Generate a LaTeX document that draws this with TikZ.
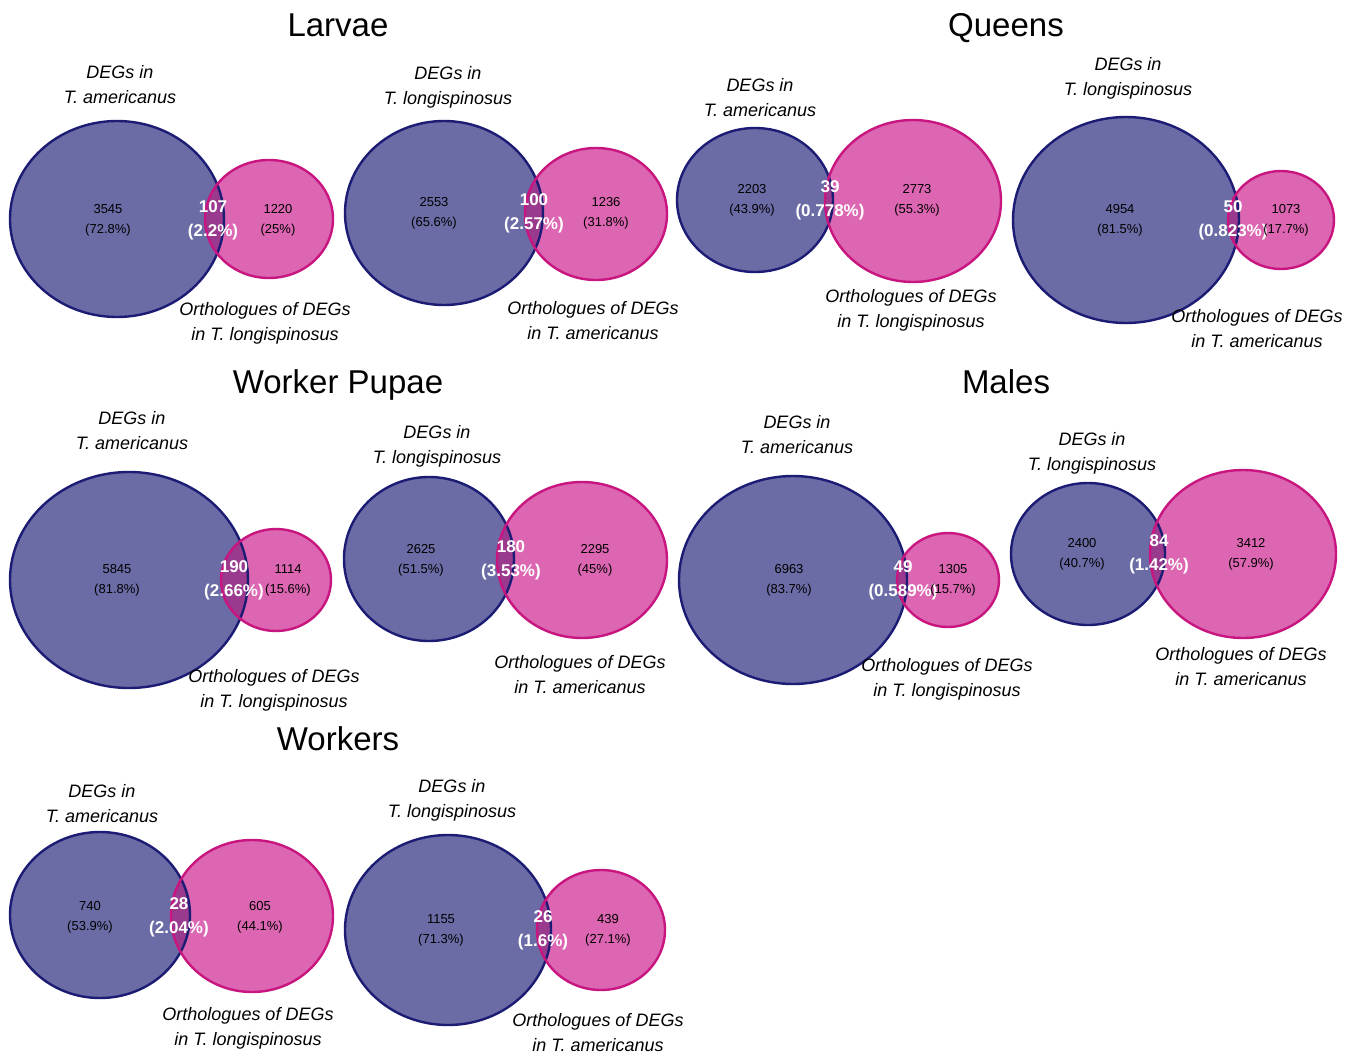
\documentclass[tikz,border=0pt]{standalone}
\usepackage{fontspec}
\setmainfont{Liberation Sans}
\definecolor{bfill}{HTML}{6B6BA6}
\definecolor{bline}{HTML}{1C1C74}
\definecolor{pfill}{HTML}{DC66B2}
\definecolor{pline}{HTML}{C8157F}
\definecolor{ofill}{HTML}{9A3A8E}
\newcommand{\myvenn}[8]{%
  \fill[bfill] (#1,#2) ellipse [x radius=#3, y radius=#4];
  \fill[pfill] (#5,#6) ellipse [x radius=#7, y radius=#8];
  \begin{scope}
    \clip (#1,#2) ellipse [x radius=#3, y radius=#4];
    \fill[ofill] (#5,#6) ellipse [x radius=#7, y radius=#8];
  \end{scope}
  \draw[bline,line width=2.4pt] (#1,#2) ellipse [x radius=#3, y radius=#4];
  \draw[pline,line width=2.4pt] (#5,#6) ellipse [x radius=#7, y radius=#8];
}
\begin{document}
\begin{tikzpicture}[x=1pt,y=-1pt,
  ttl/.style={font=\fontsize{33}{38}\selectfont,anchor=base,inner sep=0pt},
  lbl/.style={font=\fontsize{18}{25}\selectfont\itshape,align=center,inner sep=0pt},
  num/.style={font=\fontsize{13}{20}\selectfont,align=center,inner sep=0pt},
  ovn/.style={font=\fontsize{17}{24}\selectfont\bfseries,text=white,align=center,inner sep=0pt}]
\useasboundingbox[fill=white] (0,0) rectangle (1354,1054);

% titles
\node[ttl] (tl) at (338,37) {Larvae};
\node[ttl] (tq) at (1006,37) {Queens};
\node[ttl] (tw) at (338,393) {Worker Pupae};
\node[ttl] (tm) at (1006,393) {Males};
\node[ttl] (tk) at (338,750) {Workers};

% Larvae 1
\myvenn{117}{219}{107}{98}{269}{219}{64}{59}
\node[num] (l1a) at (108,220) {3545\\(72.8\%)};
\node[ovn] (l1o) at (213,220) {107\\(2.2\%)};
\node[num] (l1b) at (278,220) {1220\\(25\%)};
\node[lbl] (l1t) at (120,85) {DEGs in\\T. americanus};
\node[lbl] (l1u) at (265,323) {Orthologues of DEGs\\in T. longispinosus};

% Larvae 2
\myvenn{444}{213}{99}{92}{596}{214}{71}{66}
\node[num] (l2a) at (434,213) {2553\\(65.6\%)};
\node[ovn] (l2o) at (534,213) {100\\(2.57\%)};
\node[num] (l2b) at (606,213) {1236\\(31.8\%)};
\node[lbl] (l2t) at (448,87) {DEGs in\\T. longispinosus};
\node[lbl] (l2u) at (593,321) {Orthologues of DEGs\\in T. americanus};

% Queens 1
\myvenn{755}{200}{78}{72}{913}{201}{88}{81}
\node[num] (q1a) at (752,200) {2203\\(43.9\%)};
\node[ovn] (q1o) at (830,200) {39\\(0.778\%)};
\node[num] (q1b) at (917,200) {2773\\(55.3\%)};
\node[lbl] (q1t) at (760,98) {DEGs in\\T. americanus};
\node[lbl] (q1u) at (911,310) {Orthologues of DEGs\\in T. longispinosus};

% Queens 2
\myvenn{1126}{220}{113}{103}{1281}{220}{53}{49}
\node[num] (q2a) at (1120,220) {4954\\(81.5\%)};
\node[ovn] (q2o) at (1233,220) {50\\(0.823\%)};
\node[num] (q2b) at (1286,220) {1073\\(17.7\%)};
\node[lbl] (q2t) at (1128,78) {DEGs in\\T. longispinosus};
\node[lbl] (q2u) at (1257,329) {Orthologues of DEGs\\in T. americanus};

% Worker Pupae 1
\myvenn{129}{580}{119}{108}{276}{580}{55}{51}
\node[num] (w1a) at (117,580) {5845\\(81.8\%)};
\node[ovn] (w1o) at (234,580) {190\\(2.66\%)};
\node[num] (w1b) at (288,580) {1114\\(15.6\%)};
\node[lbl] (w1t) at (132,431) {DEGs in\\T. americanus};
\node[lbl] (w1u) at (274,690) {Orthologues of DEGs\\in T. longispinosus};

% Worker Pupae 2
\myvenn{429}{559}{85}{82}{582}{560}{85}{78}
\node[num] (w2a) at (421,560) {2625\\(51.5\%)};
\node[ovn] (w2o) at (511,560) {180\\(3.53\%)};
\node[num] (w2b) at (595,560) {2295\\(45\%)};
\node[lbl] (w2t) at (437,446) {DEGs in\\T. longispinosus};
\node[lbl] (w2u) at (580,675) {Orthologues of DEGs\\in T. americanus};

% Males 1
\myvenn{793}{580}{114}{104}{948}{580}{51}{47}
\node[num] (m1a) at (789,580) {6963\\(83.7\%)};
\node[ovn] (m1o) at (903,580) {49\\(0.589\%)};
\node[num] (m1b) at (953,580) {1305\\(15.7\%)};
\node[lbl] (m1t) at (797,435) {DEGs in\\T. americanus};
\node[lbl] (m1u) at (947,679) {Orthologues of DEGs\\in T. longispinosus};

% Males 2
\myvenn{1088}{554}{77}{71}{1243}{554}{93}{84}
\node[num] (m2a) at (1082,554) {2400\\(40.7\%)};
\node[ovn] (m2o) at (1159,554) {84\\(1.42\%)};
\node[num] (m2b) at (1251,554) {3412\\(57.9\%)};
\node[lbl] (m2t) at (1092,453) {DEGs in\\T. longispinosus};
\node[lbl] (m2u) at (1241,667) {Orthologues of DEGs\\in T. americanus};

% Workers 1
\myvenn{100}{915}{90}{83}{252}{916}{81}{76}
\node[num] (k1a) at (90,917) {740\\(53.9\%)};
\node[ovn] (k1o) at (179,917) {28\\(2.04\%)};
\node[num] (k1b) at (260,917) {605\\(44.1\%)};
\node[lbl] (k1t) at (102,804) {DEGs in\\T. americanus};
\node[lbl] (k1u) at (248,1028) {Orthologues of DEGs\\in T. longispinosus};

% Workers 2
\myvenn{448}{930}{103}{95}{601}{930}{64}{60}
\node[num] (k2a) at (441,930) {1155\\(71.3\%)};
\node[ovn] (k2o) at (543,930) {26\\(1.6\%)};
\node[num] (k2b) at (608,930) {439\\(27.1\%)};
\node[lbl] (k2t) at (452,800) {DEGs in\\T. longispinosus};
\node[lbl] (k2u) at (598,1033) {Orthologues of DEGs\\in T. americanus};
\end{tikzpicture}
\end{document}
